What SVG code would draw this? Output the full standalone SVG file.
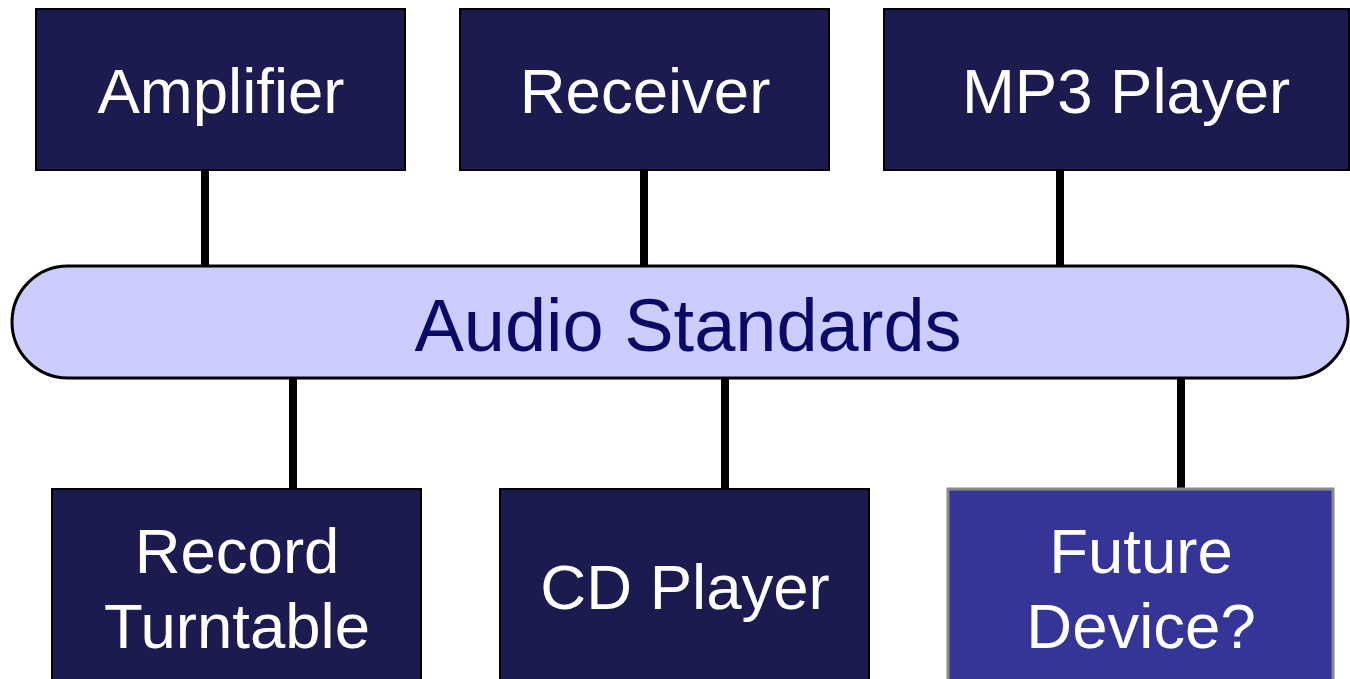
<svg xmlns="http://www.w3.org/2000/svg" width="1350" height="679" viewBox="0 0 1350 679">
<style>
.dev{fill:#1b1b4f;stroke:#000;stroke-width:2}
.fut{fill:#353597;stroke:#8a8a8a;stroke-width:3}
.lbl{font-family:"Liberation Sans",Arial,sans-serif;font-size:63.5px;fill:#fff;text-anchor:middle}
.bus{fill:#ccccff;stroke:#000;stroke-width:3}
.bt{font-family:"Liberation Sans",Arial,sans-serif;font-size:74px;fill:#0a0a66;text-anchor:middle}
.con line{stroke:#000;stroke-width:8}
</style>
<rect width="1350" height="679" fill="#fff"/>
<g id="connectors" class="con">
<line x1="205" y1="170" x2="205" y2="267"/>
<line x1="644" y1="170" x2="644" y2="267"/>
<line x1="1060" y1="170" x2="1060" y2="267"/>
<line x1="293" y1="377" x2="293" y2="490"/>
<line x1="725" y1="377" x2="725" y2="490"/>
<line x1="1181" y1="377" x2="1181" y2="490"/>
</g>
<g id="amplifier"><rect class="dev" x="36" y="9" width="369" height="161"/><text class="lbl" x="221" y="113">Amplifier</text></g>
<g id="receiver"><rect class="dev" x="460" y="9" width="369" height="161"/><text class="lbl" x="645" y="113">Receiver</text></g>
<g id="mp3"><rect class="dev" x="884" y="9" width="465" height="161"/><text class="lbl" x="1126" y="113">MP3 Player</text></g>
<g id="bus"><rect class="bus" x="12" y="266" width="1336" height="112" rx="56" ry="56"/><text class="bt" x="688" y="351">Audio Standards</text></g>
<g id="turntable"><rect class="dev" x="52" y="489" width="369" height="200"/><text class="lbl" x="237" y="573">Record</text><text class="lbl" x="237" y="648">Turntable</text></g>
<g id="cdplayer"><rect class="dev" x="500" y="489" width="369" height="200"/><text class="lbl" x="685" y="609">CD Player</text></g>
<g id="future"><rect class="fut" x="948" y="489" width="385" height="200"/><text class="lbl" x="1141" y="573">Future</text><text class="lbl" x="1141" y="648">Device?</text></g>
</svg>
